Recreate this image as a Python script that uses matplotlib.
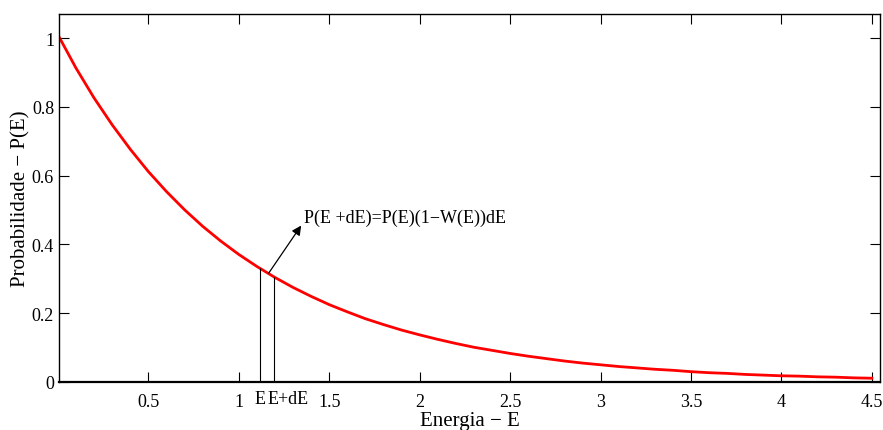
import matplotlib.pyplot as plt
from matplotlib.ticker import FormatStrFormatter

plt.rcParams['font.family'] = ['Liberation Serif', 'DejaVu Serif']

# curva P(E)
energia = [0.0, 0.1, 0.2, 0.3, 0.4, 0.5, 0.6, 0.7, 0.8, 0.9,
           1.0, 1.1, 1.2, 1.3, 1.4, 1.5, 1.6, 1.7, 1.8, 1.9,
           2.0, 2.1, 2.2, 2.3, 2.4, 2.5, 2.6, 2.7, 2.8, 2.9,
           3.0, 3.1, 3.2, 3.3, 3.4, 3.5, 3.6, 3.7, 3.8, 3.9,
           4.0, 4.1, 4.2, 4.3, 4.4, 4.5]
prob = [1.010, 0.913, 0.826, 0.748, 0.677, 0.612, 0.554, 0.501, 0.453, 0.410,
        0.371, 0.336, 0.304, 0.275, 0.249, 0.225, 0.204, 0.184, 0.167, 0.151,
        0.137, 0.124, 0.112, 0.101, 0.092, 0.083, 0.075, 0.068, 0.061, 0.055,
        0.050, 0.045, 0.041, 0.037, 0.034, 0.030, 0.027, 0.025, 0.022, 0.020,
        0.018, 0.017, 0.015, 0.014, 0.012, 0.011]

# intervalo E, E+dE
e_marks = [1.117, 1.193]
p_marks = [0.331, 0.304]
e_labels = ['E', 'E+dE']

xticks = [0.5, 1, 1.5, 2, 2.5, 3, 3.5, 4, 4.5]
yticks = [0, 0.2, 0.4, 0.6, 0.8, 1]

fig = plt.figure(figsize=(8.83, 4.31), dpi=100)
ax = fig.add_axes([0.0668, 0.1114, 0.9298, 0.8536])

ax.plot(energia, prob, color='red', lw=2)
ax.vlines(e_marks, 0, p_marks, color='black', lw=0.8)

ax.set_xlim(0.006, 4.545)
ax.set_ylim(0, 1.07)
ax.set_xticks(xticks)
ax.set_yticks(yticks)
ax.xaxis.set_major_formatter(FormatStrFormatter('%g'))
ax.yaxis.set_major_formatter(FormatStrFormatter('%g'))
ax.tick_params(direction='in', top=True, right=True, length=7, labelsize=13)
ax.tick_params(axis='x', pad=8)

for s in ax.spines.values():
    s.set_linewidth(1.0)
ax.spines['bottom'].set_linewidth(1.6)

# rotulos E e E+dE sob as linhas
ax.text(e_marks[0], -0.022, e_labels[0], ha='center', va='top', fontsize=13)
ax.text(e_marks[1] - 0.035, -0.022, e_labels[1], ha='left', va='top', fontsize=13)

ax.annotate('', xy=(1.345, 0.455), xytext=(1.166, 0.317),
            arrowprops=dict(arrowstyle='-|>', color='black', lw=0.9,
                            mutation_scale=14, shrinkA=0, shrinkB=0))
ax.text(1.36, 0.48, 'P(E +dE)=P(E)(1\u2212W(E))dE', fontsize=13, va='center', ha='left')

ax.set_xlabel('Energia \u2212 E', fontsize=15, labelpad=1)
ax.set_ylabel('Probabilidade \u2212 P(E)', fontsize=15, labelpad=1)

fig.savefig('out.png', dpi=100)
